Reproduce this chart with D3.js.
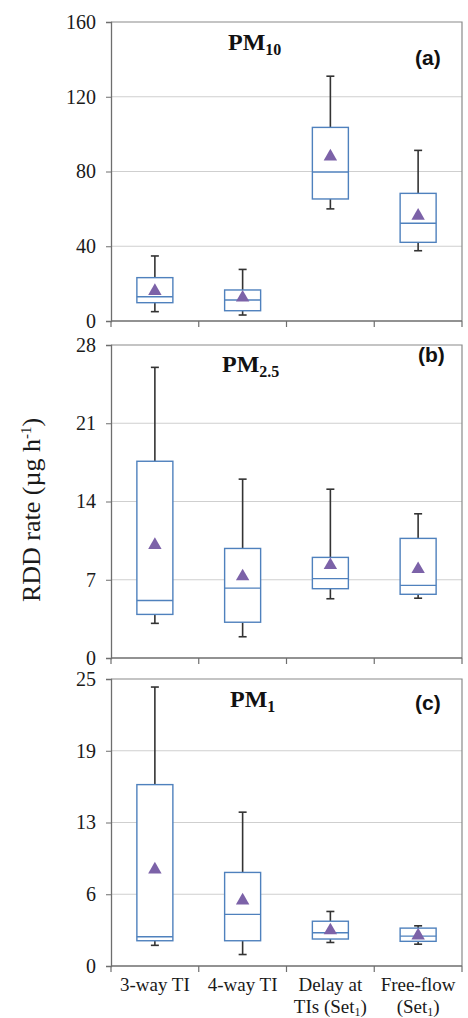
<!DOCTYPE html>
<html>
<head>
<script src="https://cdnjs.cloudflare.com/ajax/libs/d3/7.8.5/d3.min.js"></script>
<style>
  body { margin: 0; background: #fff; }
  svg text { font-family: "Liberation Serif", "Times New Roman", serif; }
</style>
</head>
<body>
<script>
// categories along the x axis (second line, subscript part)
var categories = ["3-way TI", "4-way TI", "Delay at", "Free-flow"];
var categoryLine2 = ["", "", "TIs (Set", "(Set"];

// box stats: lo whisker, q1, median, q3, hi whisker, mean
var pm10 = [
  { lo: 5, q1: 9.8, med: 13, q3: 23.2, hi: 34.8, mean: 16 },
  { lo: 3.2, q1: 5.5, med: 11.2, q3: 16.6, hi: 27.6, mean: 12.5 },
  { lo: 60, q1: 65.3, med: 79.7, q3: 103.6, hi: 131, mean: 88 },
  { lo: 37.6, q1: 42.1, med: 52.3, q3: 68.3, hi: 91.3, mean: 56.3 }
];
var pm25 = [
  { lo: 3.1, q1: 3.9, med: 5.15, q3: 17.6, hi: 26, mean: 10.1 },
  { lo: 1.9, q1: 3.2, med: 6.25, q3: 9.8, hi: 16, mean: 7.3 },
  { lo: 5.3, q1: 6.2, med: 7.1, q3: 9.0, hi: 15.1, mean: 8.3 },
  { lo: 5.35, q1: 5.7, med: 6.5, q3: 10.7, hi: 12.9, mean: 7.95 }
];
var pm1 = [
  { lo: 1.8, q1: 2.2, med: 2.55, q3: 15.8, hi: 24.3, mean: 8.4 },
  { lo: 1.0, q1: 2.2, med: 4.5, q3: 8.15, hi: 13.4, mean: 5.7 },
  { lo: 2.05, q1: 2.35, med: 2.9, q3: 3.9, hi: 4.75, mean: 3.1 },
  { lo: 1.9, q1: 2.15, med: 2.6, q3: 3.3, hi: 3.5, mean: 2.65 }
];

var pm10Ticks = [0, 40, 80, 120, 160];
var pm25Ticks = [0, 7, 14, 21, 28];
var pm1Ticks = [0, 6.25, 12.5, 18.75, 25];

var panels = [
  { data: pm10, ticks: pm10Ticks, top: 22, bottom: 321, sub: "10", tag: "(a)", tx: 228, ty: 50, lx: 415, ly: 65 },
  { data: pm25, ticks: pm25Ticks, top: 345, bottom: 658, sub: "2.5", tag: "(b)", tx: 222, ty: 372, lx: 418, ly: 362 },
  { data: pm1, ticks: pm1Ticks, top: 679, bottom: 966, sub: "1", tag: "(c)", tx: 230, ty: 707, lx: 415, ly: 710 }
];

var W = 468, H = 1018, left = 111, right = 462;

var svg = d3.select("body").append("svg")
  .attr("width", W)
  .attr("height", H);

var x = d3.scaleBand().domain(categories).range([left, right]);
var boxW = 36, capW = 8;

panels.forEach(function(p, pi) {
  var y = d3.scaleLinear()
    .domain([0, d3.max(p.ticks)])
    .range([p.bottom, p.top]);
  var g = svg.append("g");

  // gridlines
  g.selectAll(".grid")
    .data(p.ticks.slice(1, -1))
    .enter().append("line")
    .attr("x1", left).attr("x2", right)
    .attr("y1", function(d) { return y(d); })
    .attr("y2", function(d) { return y(d); })
    .style("stroke", "#cfcfcf").style("stroke-width", 1);

  // frame
  g.append("path")
    .attr("d", "M" + left + "," + p.top + "H" + right + "V" + p.bottom)
    .style("fill", "none").style("stroke", "#8a8a8a").style("stroke-width", 1.2);

  // y axis
  var ya = g.append("g")
    .attr("transform", "translate(" + left + ",0)")
    .call(d3.axisLeft(y).tickValues(p.ticks).tickSize(5).tickPadding(10)
      .tickFormat(function(d) { return Math.round(d); }));
  ya.select(".domain").style("stroke", "#6e6e6e").style("stroke-width", 1.3);
  ya.selectAll(".tick line").style("stroke", "#6e6e6e");
  ya.selectAll("text").style("font-size", "20px").style("fill", "#1a1a1a")
    .style("font-family", "Liberation Serif");

  // x axis line and boundary ticks
  g.append("line")
    .attr("x1", left).attr("x2", right)
    .attr("y1", p.bottom).attr("y2", p.bottom)
    .style("stroke", "#6e6e6e").style("stroke-width", 1.3);
  var bounds = d3.range(categories.length + 1).map(function(i) { return left + i * x.step(); });
  g.selectAll(".xt")
    .data(bounds)
    .enter().append("line")
    .attr("x1", function(d) { return d; }).attr("x2", function(d) { return d; })
    .attr("y1", p.bottom).attr("y2", p.bottom + 6)
    .style("stroke", "#6e6e6e").style("stroke-width", 1.2);

  // boxes
  var b = g.selectAll(".box")
    .data(p.data)
    .enter().append("g")
    .attr("transform", function(d, i) { return "translate(" + (x(categories[i]) + x.bandwidth() / 2) + ",0)"; });

  b.append("line")
    .attr("x1", 0).attr("x2", 0)
    .attr("y1", function(d) { return y(d.hi); })
    .attr("y2", function(d) { return y(d.q3); })
    .style("stroke", "#333").style("stroke-width", 1.6);
  b.append("line")
    .attr("x1", 0).attr("x2", 0)
    .attr("y1", function(d) { return y(d.q1); })
    .attr("y2", function(d) { return y(d.lo); })
    .style("stroke", "#333").style("stroke-width", 1.6);
  b.append("line")
    .attr("x1", -capW / 2).attr("x2", capW / 2)
    .attr("y1", function(d) { return y(d.hi); })
    .attr("y2", function(d) { return y(d.hi); })
    .style("stroke", "#333").style("stroke-width", 1.6);
  b.append("line")
    .attr("x1", -capW / 2).attr("x2", capW / 2)
    .attr("y1", function(d) { return y(d.lo); })
    .attr("y2", function(d) { return y(d.lo); })
    .style("stroke", "#333").style("stroke-width", 1.6);

  b.append("rect")
    .attr("x", -boxW / 2).attr("width", boxW)
    .attr("y", function(d) { return y(d.q3); })
    .attr("height", function(d) { return y(d.q1) - y(d.q3); })
    .style("fill", "#fff").style("stroke", "#4f81bd").style("stroke-width", 1.4);
  b.append("line")
    .attr("x1", -boxW / 2).attr("x2", boxW / 2)
    .attr("y1", function(d) { return y(d.med); })
    .attr("y2", function(d) { return y(d.med); })
    .style("stroke", "#4f81bd").style("stroke-width", 1.4);

  b.append("path")
    .attr("transform", function(d) { return "translate(0," + y(d.mean) + ")"; })
    .attr("d", d3.symbol().type(d3.symbolTriangle).size(78))
    .style("fill", "#7c62a8");

  // titles
  var t = g.append("text")
    .attr("x", p.tx).attr("y", p.ty)
    .style("font-size", "24px").style("font-weight", "bold").style("fill", "#111");
  t.append("tspan").text("PM");
  t.append("tspan").attr("dy", 5).style("font-size", "16px").text(p.sub);

  g.append("text")
    .attr("x", p.lx).attr("y", p.ly)
    .style("font-family", "Liberation Sans, Arial, sans-serif")
    .style("font-size", "21px").style("font-weight", "bold").style("fill", "#111")
    .text(p.tag);

  // category labels only under the last panel
  if (pi === panels.length - 1) {
    categories.forEach(function(c, i) {
      var cx = x(c) + x.bandwidth() / 2;
      g.append("text")
        .attr("x", cx).attr("y", p.bottom + 25)
        .attr("text-anchor", "middle")
        .style("font-size", "19px").style("fill", "#1a1a1a")
        .text(c);
      if (categoryLine2[i]) {
        var t2 = g.append("text")
          .attr("x", cx).attr("y", p.bottom + 47)
          .attr("text-anchor", "middle")
          .style("font-size", "19px").style("fill", "#1a1a1a");
        t2.append("tspan").text(categoryLine2[i]);
        t2.append("tspan").attr("dy", 3).style("font-size", "12px").text("1");
        t2.append("tspan").attr("dy", -3).text(")");
      }
    });
  }
});

// shared y label
var yl = svg.append("text")
  .attr("transform", "translate(40,510) rotate(-90)")
  .attr("text-anchor", "middle")
  .style("font-size", "26px").style("fill", "#1a1a1a");
yl.append("tspan").text("RDD rate (\u00b5g h");
yl.append("tspan").attr("dy", -9).style("font-size", "15px").text("-1");
yl.append("tspan").attr("dy", 9).text(")");
</script>
</body>
</html>
